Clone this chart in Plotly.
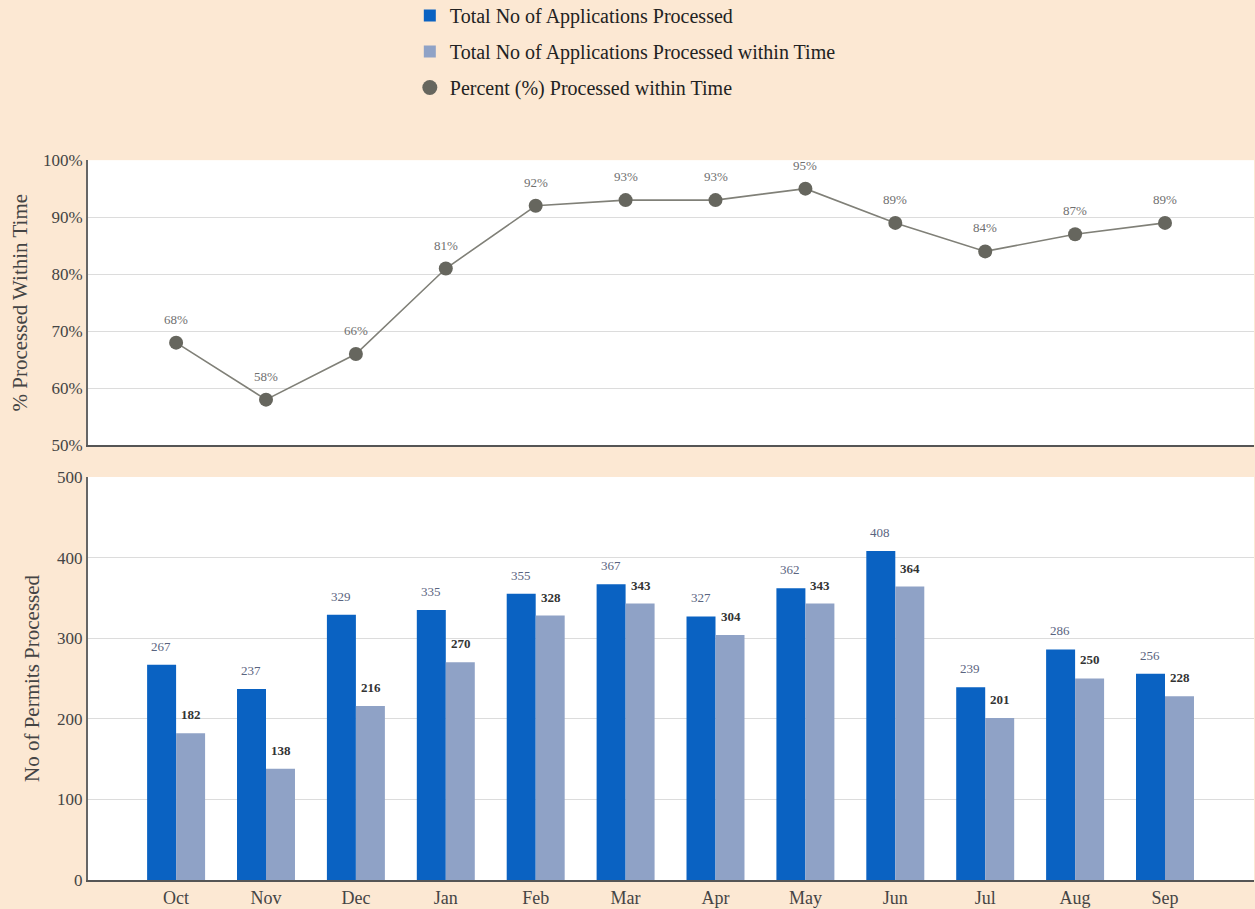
import plotly.graph_objects as go

months = ["Oct", "Nov", "Dec", "Jan", "Feb", "Mar", "Apr", "May", "Jun", "Jul", "Aug", "Sep"]
total_processed = [267, 237, 329, 335, 355, 367, 327, 362, 408, 239, 286, 256]
within_time = [182, 138, 216, 270, 328, 343, 304, 343, 364, 201, 250, 228]
pct_within = [68, 58, 66, 81, 92, 93, 93, 95, 89, 84, 87, 89]

FONT = "Liberation Serif"
BG = "#FCE8D3"

fig = go.Figure()

fig.add_trace(go.Bar(
    x=months, y=total_processed, name="Total No of Applications Processed",
    marker=dict(color="#0A62C2", line=dict(width=0)),
    xaxis="x", yaxis="y", legendgroup="a",
))
fig.add_trace(go.Bar(
    x=months, y=within_time, name="Total No of Applications Processed within Time",
    marker=dict(color="#8FA2C6", line=dict(width=0)),
    xaxis="x", yaxis="y", legendgroup="b",
))
fig.add_trace(go.Scatter(
    x=months, y=pct_within, mode="lines+markers",
    line=dict(color="#808078", width=1.6),
    marker=dict(color="#66665E", size=14),
    cliponaxis=False, xaxis="x2", yaxis="y2", showlegend=False,
))
fig.add_trace(go.Scatter(
    x=[None], y=[None], mode="markers", name="Percent (%) Processed within Time",
    marker=dict(color="#66665E", size=15), xaxis="x2", yaxis="y2", legendgroup="c",
))

# percent labels
for m, v in zip(months, pct_within):
    fig.add_annotation(x=m, y=v, xref="x2", yref="y2", text="%d%%" % v, showarrow=False,
                       yshift=14, yanchor="bottom",
                       font=dict(family=FONT, size=13, color="#707070"))

# bar value labels
for m, v in zip(months, total_processed):
    fig.add_annotation(x=m, y=v, xref="x", yref="y", text=str(v), showarrow=False,
                       xshift=-15, yshift=9, yanchor="bottom",
                       font=dict(family=FONT, size=13, color="#5A6480"))
for m, v in zip(months, within_time):
    fig.add_annotation(x=m, y=v, xref="x", yref="y", text="<b>%d</b>" % v, showarrow=False,
                       xshift=15, yshift=9, yanchor="bottom",
                       font=dict(family=FONT, size=13, color="#333333"))

xr = [-0.98, 11.99]
fig.update_layout(
    width=1255, height=909,
    paper_bgcolor=BG, plot_bgcolor="white",
    margin=dict(l=88, r=1, t=0, b=29, autoexpand=False),
    barmode="group", bargap=0.355, bargroupgap=0.0,
    font=dict(family=FONT, size=15, color="#444444"),
    legend=dict(
        x=0.276, y=1.0046, xanchor="left", yanchor="top", orientation="v",
        bgcolor="rgba(0,0,0,0)", tracegroupgap=7,
        font=dict(family=FONT, size=20, color="#222222"),
        itemwidth=30,
    ),
    xaxis=dict(
        domain=[0, 1], range=xr, type="category", anchor="y",
        showline=True, linecolor="#555555", linewidth=2,
        ticks="", tickfont=dict(family=FONT, size=18, color="#444444"),
        showgrid=False,
    ),
    yaxis=dict(
        domain=[0, 0.458], range=[0, 500], dtick=100, anchor="x",
        showline=True, linecolor="#666666", linewidth=2,
        gridcolor="#DCDCDC", gridwidth=1,
        tickfont=dict(family=FONT, size=17, color="#444444"),
        ticks="", zeroline=False,
        title=dict(text="No of Permits Processed", standoff=12,
                   font=dict(family=FONT, size=21, color="#444444")),
    ),
    xaxis2=dict(
        domain=[0, 1], range=xr, type="category", anchor="y2",
        showline=True, linecolor="#555555", linewidth=2,
        showticklabels=False, ticks="", showgrid=False,
    ),
    yaxis2=dict(
        domain=[0.494, 0.818], range=[50, 100], dtick=10, anchor="x2",
        showline=True, linecolor="#666666", linewidth=2,
        gridcolor="#DCDCDC", gridwidth=1, ticksuffix="%",
        tickfont=dict(family=FONT, size=17, color="#444444"),
        ticks="", zeroline=False,
        title=dict(text="% Processed Within Time", standoff=10,
                   font=dict(family=FONT, size=21, color="#444444")),
    ),
)

fig.write_html("out.html", config={"displayModeBar": False},
               post_script="document.body.style.margin='0';document.body.style.overflow='hidden';")
